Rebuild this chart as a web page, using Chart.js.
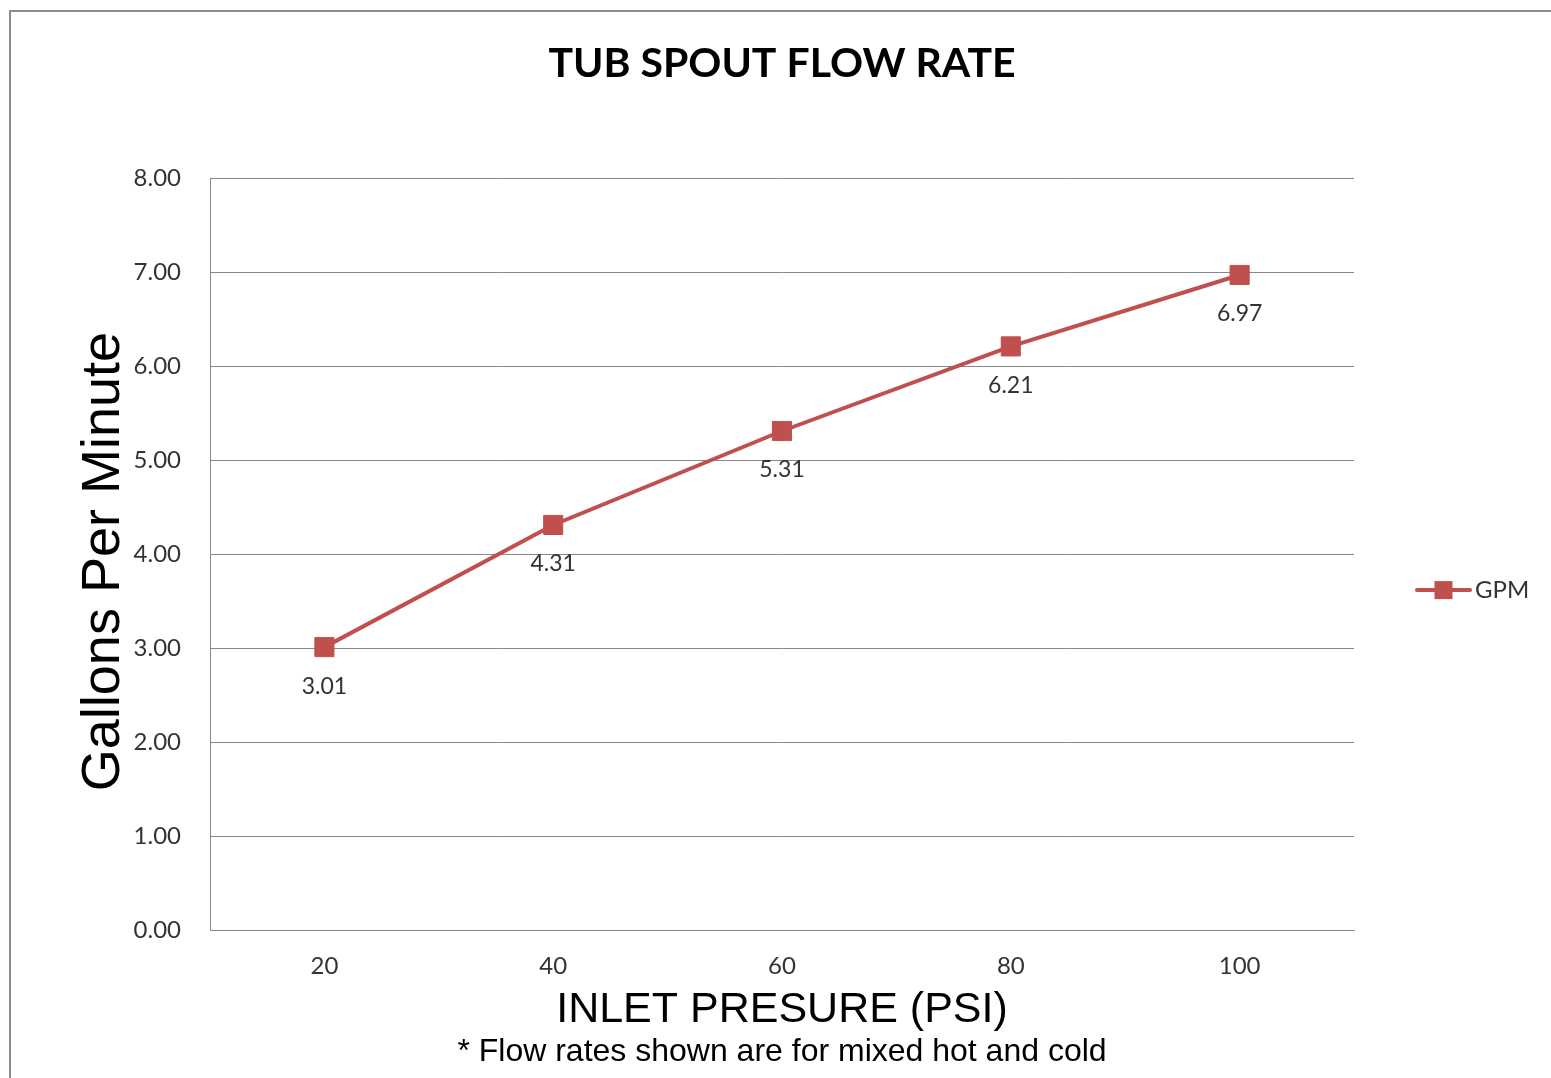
<!DOCTYPE html>
<html>
<head>
<meta charset="utf-8">
<title>Tub Spout Flow Rate</title>
<script src="https://cdn.jsdelivr.net/npm/chart.js@4.4.1/dist/chart.umd.min.js"></script>
<style>
  html, body { margin: 0; padding: 0; background: #fff; overflow: hidden; }
  #frame { position: absolute; left: 9px; top: 10px; width: 1600px; height: 1200px; border: 2px solid #8c8c8c; }
  #chart { position: absolute; left: 0; top: 0; }
</style>
</head>
<body>
<div id="frame"></div>
<canvas id="chart" width="1551" height="1078"></canvas>
<script>
  // data
  const pressures = ['20', '40', '60', '80', '100'];
  const gpm = [3.01, 4.31, 5.31, 6.21, 6.97];
  const yTickLabels = ['0.00', '1.00', '2.00', '3.00', '4.00', '5.00', '6.00', '7.00', '8.00'];

  const red = '#C0504D';
  const textColor = '#333333';
  const gridColor = '#888888';

  // value labels under each point
  const pointLabels = {
    id: 'pointLabels',
    afterDatasetsDraw(chart) {
      const ctx = chart.ctx;
      const meta = chart.getDatasetMeta(0);
      ctx.save();
      ctx.font = '23px Lato';
      ctx.fillStyle = textColor;
      ctx.textAlign = 'center';
      ctx.textBaseline = 'middle';
      meta.data.forEach((pt, i) => {
        ctx.fillText(gpm[i].toFixed(2), pt.x, pt.y + 39);
      });
      ctx.restore();
    }
  };

  // excel style legend: line with a square marker
  const sideLegend = {
    id: 'sideLegend',
    afterDraw(chart) {
      const ctx = chart.ctx;
      const area = chart.chartArea;
      const ds = chart.data.datasets[0];
      const x0 = area.right + 63;
      const x1 = area.right + 116;
      const y = (area.top + area.bottom) / 2 + 36;
      ctx.save();
      ctx.strokeStyle = ds.borderColor;
      ctx.lineWidth = 4;
      ctx.lineCap = 'round';
      ctx.beginPath();
      ctx.moveTo(x0, y);
      ctx.lineTo(x1, y);
      ctx.stroke();
      ctx.fillStyle = ds.pointBackgroundColor;
      ctx.fillRect((x0 + x1) / 2 - 9, y - 9, 18, 18);
      ctx.font = '24px Lato';
      ctx.fillStyle = textColor;
      ctx.textAlign = 'left';
      ctx.textBaseline = 'middle';
      ctx.fillText(ds.label, x1 + 5, y);
      ctx.restore();
    }
  };

  new Chart(document.getElementById('chart'), {
    type: 'line',
    data: {
      labels: pressures,
      datasets: [{
        label: 'GPM',
        data: gpm,
        borderColor: red,
        borderWidth: 4,
        pointStyle: 'rect',
        pointRadius: 13.5,
        pointHoverRadius: 13.5,
        pointBackgroundColor: red,
        pointBorderColor: red,
        pointBorderWidth: 1,
        tension: 0
      }]
    },
    options: {
      responsive: false,
      animation: false,
      layout: { padding: { left: 0, top: 0, right: 197, bottom: 0 } },
      plugins: {
        legend: { display: false },
        tooltip: { enabled: false },
        title: {
          display: true,
          fullSize: false,
          text: 'TUB SPOUT FLOW RATE',
          color: '#000',
          font: { family: 'Lato', size: 41, weight: 'bold' },
          padding: { top: 39, bottom: 90 }
        },
        subtitle: {
          display: true,
          fullSize: false,
          position: 'bottom',
          text: '* Flow rates shown are for mixed hot and cold',
          color: '#000',
          font: { family: 'Liberation Sans', size: 32 },
          padding: { top: 0, bottom: 7 }
        }
      },
      scales: {
        x: {
          offset: true,
          grid: { display: false, drawTicks: false },
          border: { display: true, color: gridColor, width: 1 },
          ticks: { color: textColor, font: { family: 'Lato', size: 24 }, padding: 22 },
          title: {
            display: true,
            text: 'INLET PRESURE (PSI)',
            color: '#000',
            font: { family: 'Liberation Sans', size: 43 },
            padding: { top: 0, bottom: -3 }
          },
          afterFit(scale) { scale.height = 102.6; }
        },
        y: {
          min: 0,
          max: 8,
          ticks: {
            stepSize: 1,
            color: textColor,
            font: { family: 'Lato', size: 24 },
            padding: 29,
            callback: (v, i) => yTickLabels[i]
          },
          grid: { color: gridColor, lineWidth: 1, drawTicks: false },
          border: { display: true, color: gridColor, width: 1 },
          title: {
            display: true,
            text: 'Gallons Per Minute ',
            color: '#000',
            font: { family: 'Liberation Sans', size: 54 },
            padding: { top: 72, bottom: 0 }
          },
          afterFit(scale) { scale.width = 210; }
        }
      }
    },
    plugins: [pointLabels, sideLegend]
  });
</script>
</body>
</html>
